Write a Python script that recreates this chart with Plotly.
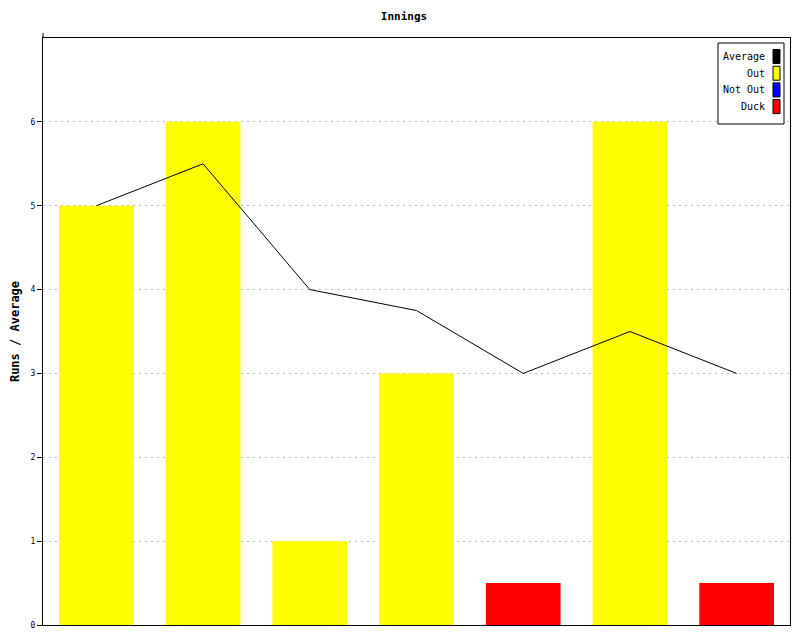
import plotly.graph_objects as go

innings = [1, 2, 3, 4, 5, 6, 7]
out_runs = [5, 6, 1, 3, None, 6, None]
duck_runs = [None, None, None, None, 0.5, None, 0.5]
average = [5, 5.5, 4, 3.75, 3, 3.5, 3]
y_ticks = [0, 1, 2, 3, 4, 5, 6]
legend_names = ["Average", "Out", "Not Out", "Duck"]
legend_colors = ["#000000", "#ffff00", "#0000ff", "#ff0000"]

x = list(range(len(innings)))
font = "DejaVu Sans Mono"

# page body has an 8px margin, so the figure is offset by (8, 8)
OFF = 8
FW, FH = 800 - OFF, 640 - OFF

fig = go.Figure()
fig.add_bar(x=x, y=out_runs, marker=dict(color="#ffff00", line=dict(width=0)), width=0.7, name="Out")
fig.add_bar(x=x, y=duck_runs, marker=dict(color="#ff0000", line=dict(width=0)), width=0.7, name="Duck")
fig.add_scatter(x=x, y=average, mode="lines", line=dict(color="black", width=1), name="Average")

fig.update_layout(
    width=FW, height=FH,
    margin=dict(l=43 - OFF, r=10, t=38 - OFF, b=15),
    paper_bgcolor="white", plot_bgcolor="white",
    barmode="overlay",
    showlegend=False,
    title=dict(text="<b>Innings</b>", x=0.5, xanchor="center", y=1 - (16 - OFF) / FH, yanchor="middle",
               font=dict(family=font, size=11, color="black")),
    font=dict(family=font, color="black"),
)
fig.update_xaxes(range=[-0.5, 6.5], showticklabels=False, ticks="", showgrid=False, automargin=False,
                 showline=True, linecolor="black", linewidth=1, mirror=True, zeroline=False)
fig.update_yaxes(range=[0, 7], tickvals=y_ticks, ticks="outside", ticklen=5, tickcolor="black",
                 tickfont=dict(family=font, size=8, color="black"), automargin=False,
                 showgrid=True, gridcolor="#b8b8b8", griddash="2px,4px", gridwidth=1,
                 layer="above traces",
                 showline=True, linecolor="black", linewidth=1, mirror=True, zeroline=False,
                 title=dict(text="<b>Runs / Average</b>", font=dict(family=font, size=12, color="black"), standoff=9))

# legend box drawn manually (text right-aligned with colour swatch on the right), screen coords
pl, pt, pw, ph = 43, 38, 747, 587
def px(v):
    return (v - pl) / pw
def py(v):
    return 1 - (v - pt) / ph

# small extension of the y axis line above the plot frame
fig.add_shape(type="line", xref="paper", yref="paper", x0=0, x1=0, y0=1, y1=py(33),
              line=dict(color="black", width=1))

fig.add_shape(type="rect", xref="paper", yref="paper", x0=px(718), x1=px(784), y0=py(43), y1=py(124),
              line=dict(color="black", width=1), fillcolor="white", layer="above")
for i, (name, col) in enumerate(zip(legend_names, legend_colors)):
    cy = 56.5 + i * 16.7
    fig.add_shape(type="rect", xref="paper", yref="paper", x0=px(773), x1=px(780), y0=py(cy - 7), y1=py(cy + 7),
                  line=dict(color="black", width=1), fillcolor=col, layer="above")
    fig.add_annotation(xref="paper", yref="paper", x=px(767), y=py(cy), xanchor="right", yanchor="middle",
                       text=name, showarrow=False, font=dict(family=font, size=10, color="black"))

fig.write_html("out.html")
